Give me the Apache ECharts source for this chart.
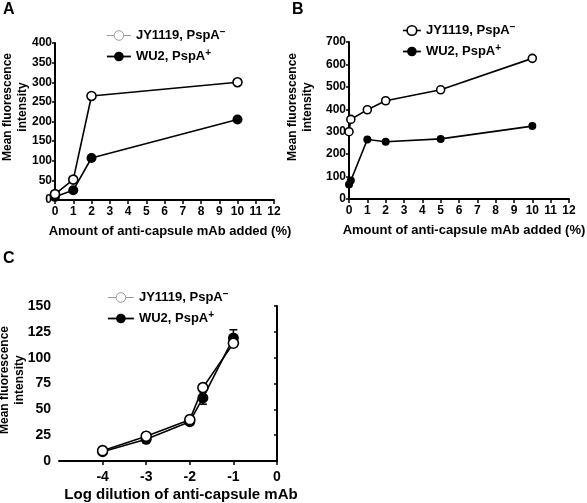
<!DOCTYPE html>
<html><head><meta charset="utf-8">
<script src="https://cdn.jsdelivr.net/npm/echarts@6/dist/echarts.min.js"></script>
<style>html,body{margin:0;padding:0;background:#fff}#c{width:587px;height:503px}</style>
</head><body><div id="c"></div>
<script>
// Panel A
const aX = [0, 1, 2, 10];
const aJY = [15, 52, 265, 300];
const aWU = [8, 25, 107, 205];
// Panel B
const bX = [0, 0.1, 1, 2, 5, 10];
const bJY = [300, 355, 398, 438, 487, 627];
const bWU = [65, 82, 265, 255, 268, 325];
// Panel C
const cX = [-4, -3, -2, -1.7, -1];
const cJY = [10, 24, 40, 71, 114];
const cWU = [9, 21, 38, 61, 119];
const cWUerr = [0, 0, 0, 6, 8];
const cTicks = [-4, -3, -2, -1, 0];

const FONT = "'Liberation Sans', Arial, Helvetica, sans-serif";
const pairs = (xs, ys) => xs.map((x, i) => [x, ys[i]]);

const chart = echarts.init(document.getElementById('c'), null, {renderer: 'canvas'});

function xAx(gi, min, max, fs, extra) {
  return Object.assign({
    type: 'value', gridIndex: gi, min: min, max: max, interval: 1,
    axisLine: {lineStyle: {color: '#000', width: 2}},
    axisTick: {show: true, length: 4, lineStyle: {color: '#000', width: 1.5}},
    axisLabel: {color: '#000', fontWeight: 'bold', fontSize: fs, fontFamily: FONT, margin: 6},
    splitLine: {show: false}
  }, extra || {});
}
function yAx(gi, max, interval, fs, margin) {
  return {
    type: 'value', gridIndex: gi, min: 0, max: max, interval: interval,
    axisLine: {show: true, lineStyle: {color: '#000', width: 2}},
    axisTick: {show: true, length: 3, lineStyle: {color: '#000', width: 1.5}},
    axisLabel: {color: '#000', fontWeight: 'bold', fontSize: fs, fontFamily: FONT, margin: margin},
    splitLine: {show: false}
  };
}
function lineSeries(name, gi, data, open, size) {
  return {
    name: name, type: 'line', xAxisIndex: gi, yAxisIndex: gi, data: data,
    symbol: 'circle', symbolSize: size, showSymbol: true,
    lineStyle: {color: '#000', width: 1.6},
    itemStyle: {color: open ? '#fff' : '#000', borderColor: '#000', borderWidth: open ? 1.6 : 0},
    z: open ? 4 : 3, animation: false
  };
}
const legendFmt = name => name.indexOf('JY') >= 0 ? '{t|JY1119, PspA}{s|\u2212}' : '{t|WU2, PspA}{s|+}';
const legendText = {
  color: '#000', fontFamily: FONT,
  rich: {
    t: {fontSize: 13, fontWeight: 'bold', fontFamily: FONT, color: '#000'},
    s: {fontSize: 10, fontWeight: 'bold', fontFamily: FONT, color: '#000', padding: [0, 0, 7, 0]}
  }
};
function legend(jy, wu, left, top, w, gray) {
  return {
    orient: 'vertical', left: left, top: top, itemWidth: w, itemHeight: 12, itemGap: 6,
    selectedMode: false, formatter: legendFmt, textStyle: legendText,
    data: [
      {name: jy, lineStyle: {color: gray ? '#999' : '#000', width: gray ? 1 : 1.6},
       itemStyle: {color: '#fff', borderColor: gray ? '#999' : '#000', borderWidth: gray ? 1 : 1.6}},
      {name: wu, lineStyle: {color: '#000', width: 1.8}, itemStyle: {color: '#000', borderWidth: 0}}
    ]
  };
}
function txt(x, y, s, fs, rot, align, lh) {
  return {type: 'text', x: x, y: y, rotation: rot || 0, silent: true,
    style: {text: s, fontSize: fs, fontWeight: 'bold', fontFamily: FONT, fill: '#000',
      align: align || 'center', verticalAlign: 'middle', lineHeight: lh || (fs + 4)}};
}

const option = {
  backgroundColor: '#fff',
  animation: false,
  grid: [
    {left: 55, top: 43, width: 219, height: 157},
    {left: 349, top: 42, width: 220, height: 157},
    {left: 59, top: 306, width: 218, height: 155}
  ],
  xAxis: [
    xAx(0, 0, 12, 12),
    xAx(1, 0, 12, 12),
    xAx(2, -5, 0, 14, {
      axisTick: {show: true, length: 4, lineStyle: {color: '#000', width: 1.5}, customValues: cTicks},
      axisLabel: {color: '#000', fontWeight: 'bold', fontSize: 14, fontFamily: FONT, margin: 9, customValues: cTicks}
    })
  ],
  yAxis: [yAx(0, 400, 50, 12, 3), yAx(1, 700, 100, 12, 3), yAx(2, 150, 25, 14, 8)],
  legend: [
    legend('A JY', 'A WU', 101, 22, 24, true),
    legend('B JY', 'B WU', 397, 17, 18, false),
    legend('C JY', 'C WU', 102, 284, 26, true)
  ],
  series: [
    lineSeries('A JY', 0, pairs(aX, aJY), true, 9),
    lineSeries('A WU', 0, pairs(aX, aWU), false, 10),
    lineSeries('B JY', 1, pairs(bX, bJY), true, 8),
    lineSeries('B WU', 1, pairs(bX, bWU), false, 8),
    {
      type: 'custom', xAxisIndex: 2, yAxisIndex: 2, z: 1, animation: false,
      data: cX.map((x, i) => [x, cWU[i], cWUerr[i]]),
      renderItem: function (params, api) {
        const e = api.value(2);
        if (!e) return null;
        const x = api.value(0), y = api.value(1);
        const hi = api.coord([x, y + e]), lo = api.coord([x, y - e]);
        const st = {stroke: '#000', lineWidth: 1.5};
        return {type: 'group', children: [
          {type: 'line', shape: {x1: hi[0], y1: hi[1], x2: lo[0], y2: lo[1]}, style: st},
          {type: 'line', shape: {x1: hi[0] - 4, y1: hi[1], x2: hi[0] + 4, y2: hi[1]}, style: st},
          {type: 'line', shape: {x1: lo[0] - 4, y1: lo[1], x2: lo[0] + 4, y2: lo[1]}, style: st}
        ]};
      }
    },
    lineSeries('C WU', 2, pairs(cX, cWU), false, 11),
    lineSeries('C JY', 2, pairs(cX, cJY), true, 10)
  ],
  graphic: [
    txt(3, 10, 'A', 16, 0, 'left'),
    txt(292, 10, 'B', 16, 0, 'left'),
    txt(3, 259, 'C', 16, 0, 'left'),
    txt(15, 107, 'Mean fluorescence\nintensity', 12, Math.PI / 2, 'center', 15),
    txt(300, 107, 'Mean fluorescence\nintensity', 12, Math.PI / 2, 'center', 15),
    txt(12, 380, 'Mean fluorescence\nintensity', 12, Math.PI / 2, 'center', 15),
    txt(170, 231, 'Amount of anti-capsule mAb added (%)', 13),
    txt(464, 230, 'Amount of anti-capsule mAb added (%)', 13),
    txt(181, 495, 'Log dilution of anti-capsule mAb', 15)
  ]
};
chart.setOption(option);
</script>
</body></html>
